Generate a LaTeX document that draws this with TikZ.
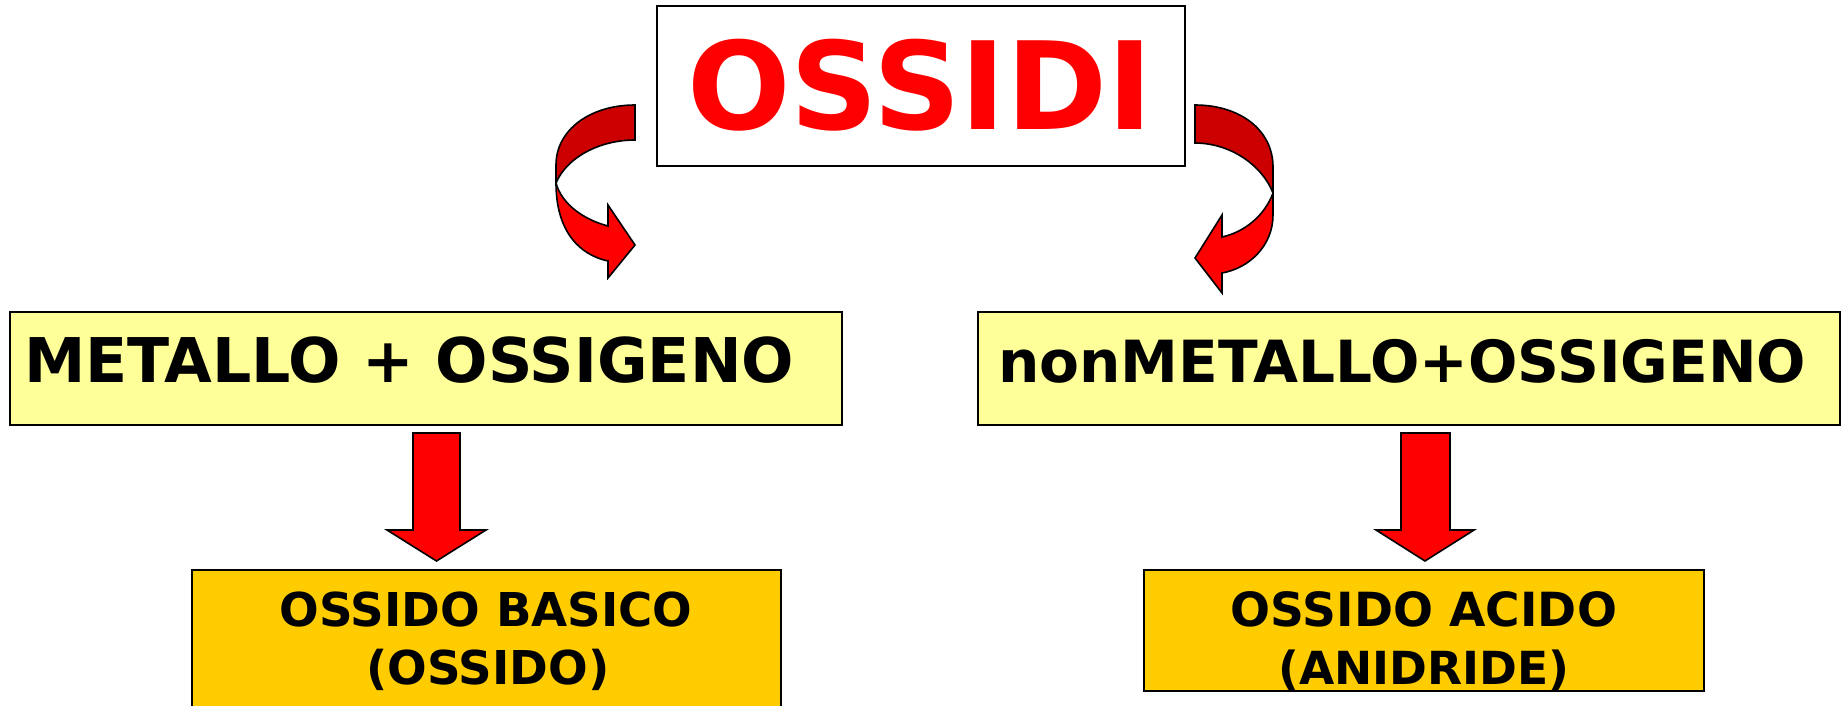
\documentclass[tikz,border=0pt]{standalone}
\usepackage{fontspec}
\setmainfont{DejaVu Sans}
\usepackage{graphicx}
\definecolor{darkred}{HTML}{CC0000}
\definecolor{arrowred}{HTML}{FF0000}
\definecolor{paleyellow}{HTML}{FFFF99}
\definecolor{goldbox}{HTML}{FFCC00}
\begin{document}
\begin{tikzpicture}[x=1pt,y=-1pt,
  box/.style={draw=black, line width=2pt, inner sep=0pt, outer sep=0pt},
  lbl/.style={anchor=base, inner sep=0pt, outer sep=0pt, font=\bfseries},
  blk/.style={draw=black, line width=1.6pt, line join=miter, fill=arrowred},
  blkdark/.style={draw=black, line width=1.6pt, line join=miter, fill=darkred}]
\useasboundingbox (0,0) rectangle (1845,705);
\clip (0,0) rectangle (1845,705);
% boxes
\node[box, fill=white, minimum width=528pt, minimum height=160pt] (title) at (921,86) {};
\node[box, fill=paleyellow, minimum width=832pt, minimum height=113pt] (metal) at (426,368.5) {};
\node[box, fill=paleyellow, minimum width=862pt, minimum height=113pt] (nonmetal) at (1409,368.5) {};
\node[box, fill=goldbox, minimum width=589pt, minimum height=150pt] (basic) at (486.5,645) {};
\node[box, fill=goldbox, minimum width=560pt, minimum height=121pt] (acid) at (1424,630.5) {};
% texts
\node[lbl, text=arrowred] (titletext) at (920,129) {\resizebox{465pt}{!}{OSSIDI}};
\node[lbl, anchor=base west] (metaltext) at (24,382) {\resizebox{770pt}{!}{METALLO + OSSIGENO}};
\node[lbl, anchor=base west] (nonmetaltext) at (998,382) {\resizebox{808pt}{!}{nonMETALLO+OSSIGENO}};
\node[lbl] (basic1) at (486,626) {\resizebox{413pt}{!}{OSSIDO BASICO}};
\node[lbl] (basic2) at (488,684) {\resizebox{243pt}{!}{(OSSIDO)}};
\node[lbl] (acid1) at (1424,626) {\resizebox{386pt}{!}{OSSIDO ACIDO}};
\node[lbl] (acid2) at (1424,684) {\resizebox{291pt}{!}{(ANIDRIDE)}};
% straight block arrows
\draw[blk] (413,433) -- (460,433) -- (460,530) -- (486,530) -- (436.5,561) -- (387,530) -- (413,530) -- cycle;
\draw[blk] (1401,433) -- (1450,433) -- (1450,530) -- (1474,530) -- (1425,561) -- (1376,530) -- (1401,530) -- cycle;
% left curved arrow
\draw[blkdark] (635,105) .. controls (590,105) and (556,130) .. (556,165) -- (556,183)
  .. controls (567,157) and (600,140) .. (635,140) -- cycle;
\draw[blk] (556,183) .. controls (556,232) and (580,255) .. (608,261) -- (608,278) -- (635,245)
  -- (608,205) -- (608,226) .. controls (585,220) and (562,205) .. (556,183) -- cycle;
% right curved arrow
\draw[blkdark] (1195,105) .. controls (1240,105) and (1273,130) .. (1273,167) -- (1273,193)
  .. controls (1262,165) and (1230,143) .. (1195,143) -- cycle;
\draw[blk] (1273,193) -- (1273,215) .. controls (1273,245) and (1250,268) .. (1222,273) -- (1222,293)
  -- (1195,258) -- (1222,215) -- (1222,237) .. controls (1245,232) and (1265,215) .. (1273,193) -- cycle;
\end{tikzpicture}
\end{document}
